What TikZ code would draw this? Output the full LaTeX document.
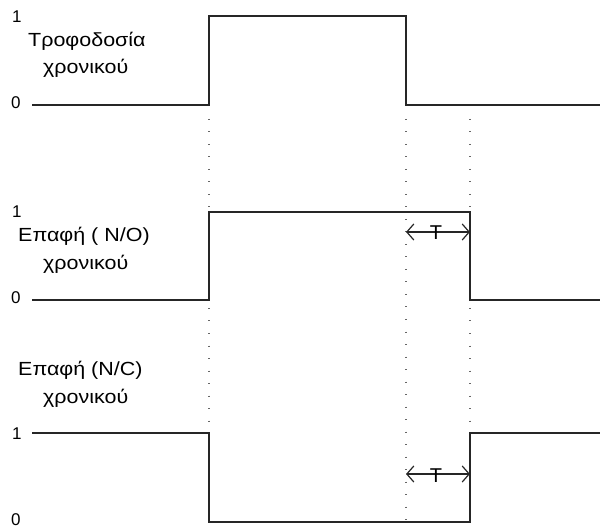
\documentclass[tikz,border=0pt]{standalone}
\usepackage{fontspec}
\setmainfont{Liberation Sans}
\usetikzlibrary{arrows.meta}
\begin{document}
\begin{tikzpicture}[x=1pt,y=-1pt,
  wave/.style={line width=1.6pt, draw=black!85},
  guide/.style={line width=1.1pt, draw=black!60, dash pattern=on 1pt off 11.5pt},
  dim/.style={line width=1.2pt, draw=black!85,
    {Straight Barb[length=7pt,width=16pt]}-{Straight Barb[length=7pt,width=16pt]}},
  lbl/.style={anchor=base west, inner sep=0pt, font=\fontsize{19pt}{21pt}\selectfont},
  lvl/.style={anchor=base west, inner sep=0pt, font=\fontsize{17pt}{19pt}\selectfont},
  tlabel/.style={inner sep=0pt, font=\fontsize{20pt}{22pt}\selectfont}]
\useasboundingbox (0,0) rectangle (605,529);

% timer supply
\draw[wave] (32,105) -- (209,105) -- (209,16) -- (406,16) -- (406,105) -- (600,105);
\node[lvl] (s1hi) at (12,23) {1};
\node[lvl] (s1lo) at (11,109) {0};
\node[lbl] (s1a) at (28,47) {\scalebox{1.13}[1]{Τροφοδοσία}};
\node[lbl] (s1b) at (43,74) {\scalebox{1.13}[1]{χρονικού}};

% N/O contact
\draw[wave] (32,300) -- (209,300) -- (209,212) -- (470,212) -- (470,300) -- (600,300);
\node[lvl] (s2hi) at (12,218) {1};
\node[lvl] (s2lo) at (11,304) {0};
\node[lbl] (s2a) at (18,242) {\scalebox{1.13}[1]{Επαφή ( N/O)}};
\node[lbl] (s2b) at (43,270) {\scalebox{1.13}[1]{χρονικού}};

% N/C contact
\draw[wave] (32,433) -- (209,433) -- (209,522) -- (470,522) -- (470,433) -- (600,433);
\node[lvl] (s3hi) at (12,439) {1};
\node[lvl] (s3lo) at (11,525) {0};
\node[lbl] (s3a) at (18,375) {\scalebox{1.13}[1]{Επαφή (N/C)}};
\node[lbl] (s3b) at (43,403) {\scalebox{1.13}[1]{χρονικού}};

% dotted guides
\draw[guide] (209,119) -- (209,210);
\draw[guide] (209,308) -- (209,431);
\draw[guide] (406,119) -- (406,526);
\draw[guide] (470,119) -- (470,210);
\draw[guide] (470,308) -- (470,431);

% delay T
\coordinate (a1) at (406,232);
\coordinate (b1) at (470,232);
\draw[dim] (a1) -- (b1);
\node[tlabel] (T1) at (436,233) {T};
\coordinate (a2) at (406,474);
\coordinate (b2) at (470,474);
\draw[dim] (a2) -- (b2);
\node[tlabel] (T2) at (436,476) {T};
\end{tikzpicture}
\end{document}
